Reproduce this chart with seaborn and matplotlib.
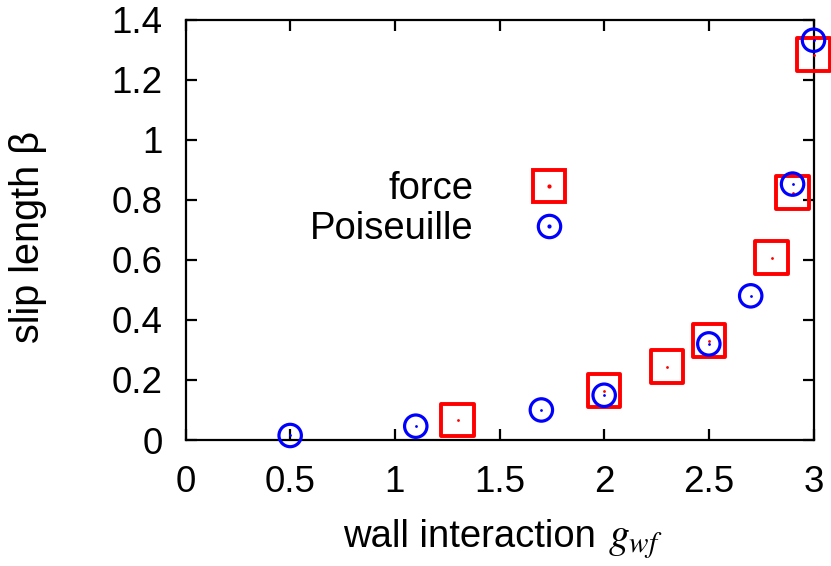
import matplotlib
matplotlib.use("Agg")
import matplotlib.pyplot as plt
import seaborn as sns
import pandas as pd
from matplotlib.legend_handler import HandlerTuple
from matplotlib.lines import Line2D

# slip length from the force method
force_g = [1.3, 2.0, 2.3, 2.5, 2.8, 2.9, 3.0]
force_beta = [0.066, 0.164, 0.244, 0.331, 0.607, 0.824, 1.283]

# slip length from the Poiseuille fit
pois_g = [0.5, 1.1, 1.7, 2.0, 2.5, 2.7, 2.9, 3.0]
pois_beta = [0.015, 0.046, 0.100, 0.149, 0.320, 0.480, 0.852, 1.331]

x_ticks = [0, 0.5, 1, 1.5, 2, 2.5, 3]
x_tick_labels = ["0", "0.5", "1", "1.5", "2", "2.5", "3"]
y_ticks = [0, 0.2, 0.4, 0.6, 0.8, 1.0, 1.2, 1.4]
y_tick_labels = ["0", "0.2", "0.4", "0.6", "0.8", "1", "1.2", "1.4"]

sns.set_style("ticks")
plt.rcParams["font.family"] = ["Liberation Sans", "DejaVu Sans"]
plt.rcParams["mathtext.fontset"] = "stix"
plt.rcParams["text.color"] = "black"
plt.rcParams["axes.labelcolor"] = "black"

FS_TICK = 26.5
FS = 27.5
RED = "#ff0000"
BLUE = "#0000ff"

W, H = 831, 566
L, R, B, T = 185.5, 813.5, 440.0, 19.5

fig = plt.figure(figsize=(W / 100, H / 100), dpi=100)
ax = fig.add_axes([L / W, 1 - B / H, (R - L) / W, (B - T) / H])

df_f = pd.DataFrame({"g": force_g, "beta": force_beta})
df_p = pd.DataFrame({"g": pois_g, "beta": pois_beta})

sns.scatterplot(data=df_f, x="g", y="beta", ax=ax, marker="s", s=548,
                facecolor="none", edgecolor=RED, linewidth=2.8, clip_on=False,
                zorder=3, legend=False)
sns.scatterplot(data=df_f, x="g", y="beta", ax=ax, marker="o", s=4,
                color=RED, linewidth=0, clip_on=False, zorder=4, legend=False)
sns.scatterplot(data=df_p, x="g", y="beta", ax=ax, marker="o", s=260,
                facecolor="none", edgecolor=BLUE, linewidth=2.3, clip_on=False,
                zorder=5, legend=False)
sns.scatterplot(data=df_p, x="g", y="beta", ax=ax, marker="o", s=4,
                color=BLUE, linewidth=0, clip_on=False, zorder=6, legend=False)

ax.set_xlim(0, 3)
ax.set_ylim(0, 1.4)
ax.set_xticks(x_ticks)
ax.set_xticklabels(x_tick_labels)
ax.set_yticks(y_ticks)
ax.set_yticklabels(y_tick_labels)

for side in ["top", "right", "bottom", "left"]:
    ax.spines[side].set_visible(True)
    ax.spines[side].set_linewidth(1.6)
    ax.spines[side].set_color("black")

ax.tick_params(axis="both", which="major", direction="in", length=8, width=1.6,
               labelsize=FS_TICK, top=True, right=True, colors="black")
ax.tick_params(axis="x", pad=18)
ax.tick_params(axis="y", pad=16.5)

# x label: sans text followed by the italic symbol g_wf
ax.set_xlabel("wall interaction", fontsize=FS, va="baseline")
ax.xaxis.set_label_coords((469 - L) / (R - L), (B - 547) / (B - T))
ax.text((608 - L) / (R - L), (B - 547) / (B - T), r"$g_{wf}$", fontsize=30,
        transform=ax.transAxes, ha="left", va="baseline")

ax.set_ylabel("slip length β", fontsize=28.5)
ax.yaxis.set_label_coords((47 - L) / (R - L), (B - 236.5) / (B - T))

h_force = (Line2D([], [], marker="s", markersize=23.4, markerfacecolor="none",
                  markeredgecolor=RED, markeredgewidth=2.8, linestyle="none"),
           Line2D([], [], marker="o", markersize=2, color=RED, linestyle="none"))
h_pois = (Line2D([], [], marker="o", markersize=16.1, markerfacecolor="none",
                 markeredgecolor=BLUE, markeredgewidth=2.3, linestyle="none"),
          Line2D([], [], marker="o", markersize=2, color=BLUE, linestyle="none"))
ax.legend([h_force, h_pois], ["force", "Poiseuille"],
          handler_map={tuple: HandlerTuple(ndivide=1, pad=0)},
          markerfirst=False, frameon=False, fontsize=FS,
          loc="center", bbox_to_anchor=(439 / W, 1 - 209 / H),
          bbox_transform=fig.transFigure, borderpad=0,
          handletextpad=1.5, labelspacing=0.1, handlelength=1.0)

fig.savefig("out.png", dpi=100)
